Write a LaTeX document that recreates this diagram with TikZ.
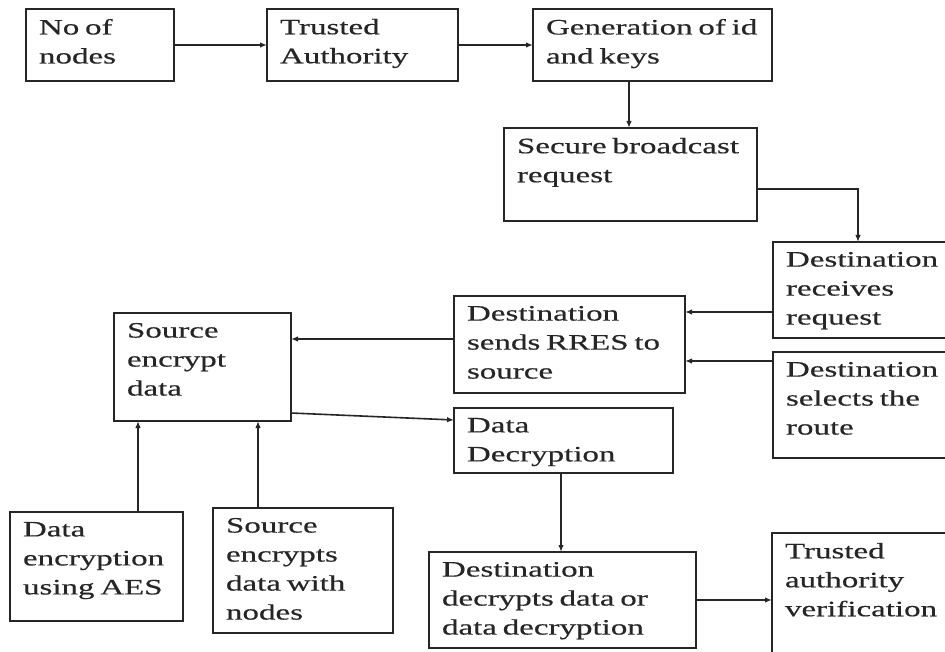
\documentclass[tikz,border=0pt]{standalone}
\usepackage{fontspec}
\setmainfont{Liberation Serif}[FakeStretch=1.5,WordSpace=0.7,FakeBold=0.4]
\usetikzlibrary{arrows.meta,calc}
\tikzset{
  boxstyle/.style={draw=black!85, line width=1.6pt, inner sep=0pt, outer sep=0pt, rectangle},
  txt/.style={inner sep=0pt, outer sep=0pt, align=left, anchor=north west,
    font=\fontsize{22}{29}\selectfont, text=black!85, xshift=13pt, yshift=-10pt},
  arr/.style={draw=black!85, line width=1.6pt, -{Latex[length=7pt,width=5.5pt]}}
}
\newcommand\mkbox[6]{%
  \node[boxstyle, minimum width=#4pt, minimum height=#5pt, anchor=north west] (#1) at (#2,#3) {};
  \node[txt] (#1t) at (#1.north west) {#6};}
\begin{document}
\begin{tikzpicture}[x=1pt,y=-1pt]
\useasboundingbox (0,0) rectangle (945,652);
\fill[white] (0,0) rectangle (945,652);
\clip (0,0) rectangle (945,652);
\mkbox{b1}{26}{9}{148}{72}{No of\\nodes}
\mkbox{b2}{267}{9}{191}{72}{Trusted\\Authority}
\mkbox{b3}{533}{9}{239}{72}{Generation of id\\and keys}
\mkbox{b4}{504}{128}{253}{93}{Secure broadcast\\request}
\mkbox{b5}{773}{242}{190}{96}{Destination\\receives\\request}
\mkbox{b6}{773}{352}{190}{106}{Destination\\selects the\\route}
\mkbox{b7}{454}{296}{231}{97}{Destination\\sends RRES to\\source}
\mkbox{b8}{114}{313}{177}{108}{Source\\encrypt\\data}
\mkbox{b9}{454}{408}{219}{65}{Data\\Decryption}
\mkbox{b10}{10}{512}{173}{109}{Data\\encryption\\using AES}
\mkbox{b11}{213}{508}{180}{125}{Source\\encrypts\\data with\\nodes}
\mkbox{b12}{429}{552}{267}{96}{Destination\\decrypts data or\\data decryption}
\mkbox{b13}{772}{533}{190}{140}{Trusted\\authority\\verification}
\coordinate (k1) at (858,189);
\coordinate (k2) at (0,312);
\coordinate (k3) at (0,361);
\coordinate (k4) at (0,339);
\coordinate (k5) at (138,0);
\coordinate (k6) at (258,0);
\coordinate (k7) at (629,0);
\coordinate (k8) at (561,0);
\draw[arr] (b1.east) -- (b2.west);
\draw[arr] (b2.east) -- (b3.west);
\draw[arr] (b3.south -| k7) -- (b4.north -| k7);
\draw[arr] (b4.east |- k1) -| (b5.north -| k1);
\draw[arr] (b5.west |- k2) -- (b7.east |- k2);
\draw[arr] (b6.west |- k3) -- (b7.east |- k3);
\draw[arr] (b7.west |- k4) -- (b8.east |- k4);
\draw[arr] ([yshift=8pt]b8.south east) -- ([yshift=-12pt]b9.north west);
\draw[arr] (b10.north -| k5) -- (b8.south -| k5);
\draw[arr] (b11.north -| k6) -- (b8.south -| k6);
\draw[arr] (b9.south -| k8) -- (b12.north -| k8);
\draw[arr] (b12.east) -- (b12.east -| b13.west);
\end{tikzpicture}
\end{document}
